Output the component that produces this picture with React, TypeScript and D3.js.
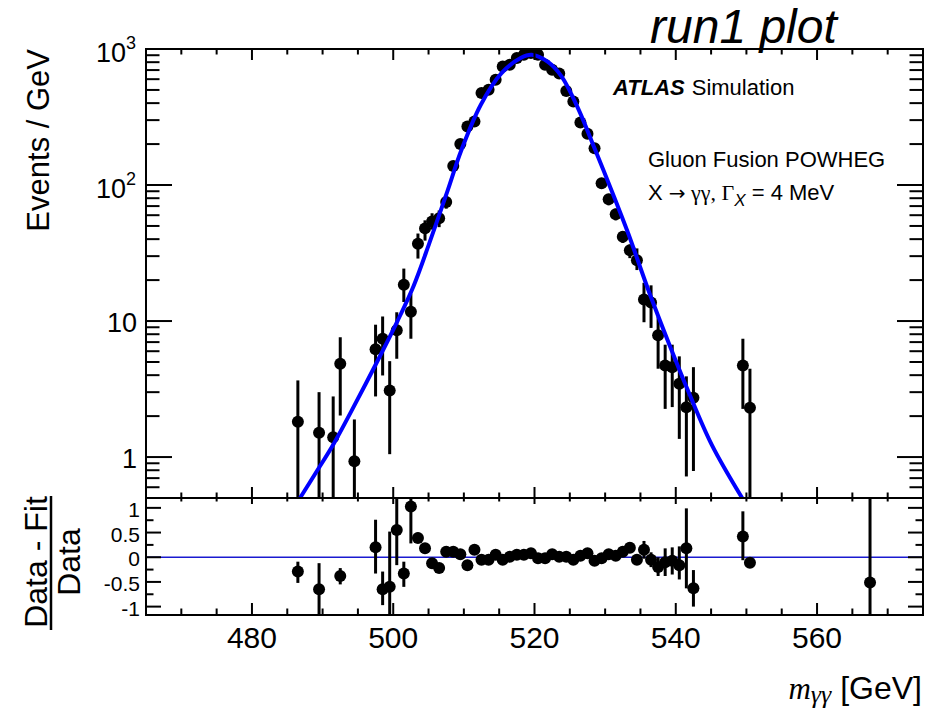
import React from 'react';
import * as d3 from 'd3';

const W = 929;
const H = 710;

// ---------- data ----------
// Main panel: bin centre [GeV], events / GeV and error-bar bounds
const mainMass = [486.5, 489.5, 491.5, 492.5, 494.5,
  497.5, 498.5, 499.5, 500.5, 501.5, 502.5, 503.5, 504.5, 505.5, 506.5,
  507.5, 508.5, 509.5, 510.5, 511.5, 512.5, 513.5, 514.5, 515.5, 516.5,
  517.5, 518.5, 519.5, 520.5, 521.5, 522.5, 523.5, 524.5, 525.5, 526.5,
  527.5, 528.5, 529.5, 530.5, 531.5, 532.5, 533.5, 534.5, 535.5, 536.5,
  537.5, 538.5, 539.5, 540.5, 541.5, 542.5,
  549.5, 550.5];
const mainValue = [1.82, 1.51, 1.40, 4.85, 0.93,
  6.2, 7.4, 3.08, 8.55, 18.5, 11.7, 37, 48, 54, 57,
  75, 138, 200, 269, 293, 474, 501, 594, 745, 766,
  859, 908, 934, 908, 766, 703, 660, 492, 411, 288,
  238, 186, 103, 78.5, 61, 41.6, 33.2, 28, 14.4, 13.7,
  7.85, 4.72, 4.58, 3.46, 2.32, 2.73,
  4.72, 2.30];
const mainErrLow = [0.1, 0.1, 0.1, 2.02, 0.1,
  2.79, 3.98, 1.05, 5.28, 13.8, 7.41, 28.8, 39, 47, 49,
  67, 127, 187, 254, 277, 454, 481, 572, 720, 741,
  832, 880, 906, 880, 741, 679, 637, 472, 393, 273,
  224, 173, 94, 71, 55, 37.5, 29, 23.7, 9.8, 8.9,
  4.46, 2.26, 2.33, 1.36, 0.72, 0.79,
  2.26, 0.1];
const mainErrHigh = [3.66, 3.0, 2.79, 7.6, 1.89,
  9.4, 10.8, 5.07, 11.6, 24.3, 15.9, 44, 55, 62, 65,
  83, 149, 213, 284, 309, 494, 521, 616, 770, 791,
  886, 936, 962, 936, 791, 727, 683, 512, 429, 303,
  252, 199, 112, 86, 67, 45.7, 36.5, 34.2, 19.1, 18.3,
  10.8, 6.7, 6.7, 5.5, 3.92, 4.58,
  7.41, 4.46];

// Fit curve
const fitMass = [486.8, 489, 491.6, 494, 497.7, 500.6, 502.9, 505.1, 507.7, 509.6,
  512.4, 515.3, 518.1, 519.6, 521.9, 523.8, 526.2, 528.5, 531.3, 533.3, 536.1, 539.0,
  541.8, 545.1, 549.4];
const fitValue = [0.5, 0.76, 1.26, 2.14, 5.0, 10.0, 18.2, 37.2, 91, 178,
  389, 661, 861, 906, 803, 631, 363, 186, 81, 43.6, 17.0, 6.9,
  3.02, 1.23, 0.5];

// Ratio panel: (Data - Fit) / Data
const ratioMass = [486.5, 489.5, 492.5,
  497.5, 498.5, 499.5, 500.5, 501.5, 502.5, 503.5, 504.5, 505.5, 506.5,
  507.5, 508.5, 509.5, 510.5, 511.5, 512.5, 513.5, 514.5, 515.5, 516.5,
  517.5, 518.5, 519.5, 520.5, 521.5, 522.5, 523.5, 524.5, 525.5, 526.5,
  527.5, 528.5, 529.5, 530.5, 531.5, 532.5, 533.5, 534.5, 535.5, 536.5,
  537.5, 538.5, 539.5, 540.5, 541.5, 542.5,
  549.5, 550.5, 567.5];
const ratioValue = [-0.29, -0.65, -0.38,
  0.20, -0.65, -0.60, 0.55, -0.33, 1.03, 0.39, 0.18, -0.12, -0.22,
  0.11, 0.11, 0.06, -0.16, 0.15, -0.05, -0.05, 0.05, -0.05, 0.01,
  0.05, 0.05, 0.08, -0.02, -0.02, 0.06, 0.01, 0.01, -0.05, 0.03,
  0.08, -0.07, -0.02, 0.06, 0.03, 0.11, 0.19, -0.05, 0.15, -0.05,
  -0.20, -0.10, -0.07, -0.16, 0.18, -0.63,
  0.42, -0.11, -0.51];
const ratioErrLow = [-0.52, -1.5, -0.55,
  -0.33, -0.97, -1.5, -0.16, -0.60, 0.28, 0.30, 0.10, -0.19, -0.32,
  0.02, 0.05, 0.01, -0.20, 0.10, -0.09, -0.09, 0.02, -0.08, -0.02,
  0.02, 0.02, 0.05, -0.05, -0.05, 0.02, -0.03, -0.03, -0.09, -0.01,
  0.03, -0.12, -0.07, 0.0, -0.02, 0.05, 0.10, -0.15, -0.03, -0.20,
  -0.38, -0.38, -0.35, -0.45, -0.63, -1.0,
  -0.06, -0.15, -1.5];
const ratioErrHigh = [-0.09, -0.12, -0.22,
  0.76, -0.29, 0.52, 1.5, -0.09, 1.5, 0.50, 0.26, -0.05, -0.12,
  0.22, 0.17, 0.11, -0.12, 0.20, -0.01, -0.01, 0.08, -0.02, 0.04,
  0.08, 0.08, 0.11, 0.01, 0.01, 0.10, 0.05, 0.05, -0.01, 0.07,
  0.13, -0.02, 0.03, 0.12, 0.08, 0.17, 0.30, 0.05, 0.33, 0.10,
  0.0, 0.18, 0.2, 0.22, 0.99, -0.26,
  0.93, -0.07, 1.5];

const xMajorTicks = [480, 500, 520, 540, 560];
const yMainTickLabels = ['1', '10', '10|2', '10|3'];
const yMainTickValues = [1, 10, 100, 1000];
const ratioTickValues = [1, 0.5, 0, -0.5, -1];
const ratioTickLabels = ['1', '0.5', '0', '-0.5', '-1'];

// ---------- layout ----------
const L = 146, R = 923, T = 49, MID = 498, B = 615;
const SANS = '"Liberation Sans", Arial, Helvetica, sans-serif';
const SERIF = '"Liberation Serif", "Times New Roman", serif';

export default function App() {
  const x = d3.scaleLinear().domain([465, 575]).range([L, R]);
  const y = d3.scaleLog().domain([0.5, 1000]).range([MID, T]);
  const yr = d3.scaleLinear().domain([-1.17, 1.2]).range([B, MID]);

  const xMinor = d3.range(465, 576, 5);
  const logMinor: number[] = [];
  for (const dec of [0.1, 1, 10, 100]) {
    for (let k = 1; k <= 9; k++) {
      const v = k * dec;
      if (v >= 0.5 && v <= 1000) logMinor.push(v);
    }
  }
  logMinor.push(1000);
  const ratioMinor = d3.range(-1, 1.01, 0.25);

  const fitLine = d3.line<number>()
    .x((_, i) => x(fitMass[i]))
    .y((v) => y(v))
    .curve(d3.curveCatmullRom.alpha(0.5));

  const ticks: JSX.Element[] = [];
  xMinor.forEach((m, i) => {
    const major = m % 20 === 0;
    const lt = major ? 11 : 5.5;
    ticks.push(<line key={'mt' + i} x1={x(m)} x2={x(m)} y1={T} y2={T + lt} />);
    ticks.push(<line key={'mb' + i} x1={x(m)} x2={x(m)} y1={MID} y2={MID - lt} />);
    const lr = major ? 6 : 3.5;
    ticks.push(<line key={'rt' + i} x1={x(m)} x2={x(m)} y1={MID} y2={MID + lr} />);
    const lb = major ? 12 : 6.5;
    ticks.push(<line key={'rb' + i} x1={x(m)} x2={x(m)} y1={B} y2={B - lb} />);
  });
  logMinor.forEach((v, i) => {
    const major = Math.abs(Math.log10(v) - Math.round(Math.log10(v))) < 1e-9;
    const len = major ? 26 : 13.5;
    ticks.push(<line key={'yl' + i} x1={L} x2={L + len} y1={y(v)} y2={y(v)} />);
    ticks.push(<line key={'yr' + i} x1={R} x2={R - len} y1={y(v)} y2={y(v)} />);
  });
  ratioMinor.forEach((v, i) => {
    const major = Math.abs(v * 2 - Math.round(v * 2)) < 1e-9;
    const len = major ? 15 : 7.5;
    ticks.push(<line key={'ql' + i} x1={L} x2={L + len} y1={yr(v)} y2={yr(v)} />);
    ticks.push(<line key={'qr' + i} x1={R} x2={R - len} y1={yr(v)} y2={yr(v)} />);
  });

  return (
    <svg width={W} height={H} viewBox={`0 0 ${W} ${H}`}
      style={{ position: 'absolute', left: 0, top: 0, background: '#fff', display: 'block' }}>
      <defs>
        <clipPath id="clipMain"><rect x={L} y={T} width={R - L} height={MID - T} /></clipPath>
        <clipPath id="clipRatio"><rect x={L} y={MID} width={R - L} height={B - MID} /></clipPath>
      </defs>
      <rect x={0} y={0} width={W} height={H} fill="#fff" />

      <g clipPath="url(#clipMain)">
        <g stroke="#000" strokeWidth={3}>
          {mainMass.map((m, i) => (
            <line key={'e' + i} x1={x(m)} x2={x(m)} y1={y(Math.max(mainErrLow[i], 0.3))} y2={y(mainErrHigh[i])} />
          ))}
        </g>
        <g fill="#000">
          {mainMass.map((m, i) => (
            <circle key={'p' + i} cx={x(m)} cy={y(mainValue[i])} r={6} />
          ))}
        </g>
        <path d={fitLine(fitValue) || ''} fill="none" stroke="#0000ff" strokeWidth={4} />
      </g>

      <g clipPath="url(#clipRatio)">
        <line x1={L} x2={R} y1={yr(0)} y2={yr(0)} stroke="#1a1ad0" strokeWidth={1.6} />
        <g stroke="#000" strokeWidth={3}>
          {ratioMass.map((m, i) => (
            <line key={'re' + i} x1={x(m)} x2={x(m)} y1={yr(ratioErrLow[i])} y2={yr(ratioErrHigh[i])} />
          ))}
        </g>
        <g fill="#000">
          {ratioMass.map((m, i) => (
            <circle key={'rp' + i} cx={x(m)} cy={yr(ratioValue[i])} r={6} />
          ))}
        </g>
      </g>

      <g stroke="#000" strokeWidth={2} fill="none">
        <rect x={L} y={T} width={R - L} height={MID - T} />
        <rect x={L} y={MID} width={R - L} height={B - MID} />
        {ticks}
      </g>

      <g fontFamily={SANS} fill="#000">
        {yMainTickValues.map((v, i) => {
          const lab = yMainTickLabels[i];
          if (lab.includes('|')) {
            const [base, exp] = lab.split('|');
            return (
              <text key={'yl' + i} x={136} y={y(v) + 13} textAnchor="end" fontSize={27}>
                {base}<tspan fontSize={18} dy={-13}>{exp}</tspan>
              </text>
            );
          }
          return (
            <text key={'yl' + i} x={137} y={y(v) + 11} textAnchor="end" fontSize={27}>{lab}</text>
          );
        })}
      </g>

      <g fontFamily={SANS} fill="#000" fontSize={21}>
        {ratioTickValues.map((v, i) => (
          <text key={'rl' + i} x={140} y={yr(v) + 9} textAnchor="end">{ratioTickLabels[i]}</text>
        ))}
      </g>

      <g fontFamily={SANS} fill="#000" fontSize={30}>
        {xMajorTicks.map((m) => (
          <text key={'xl' + m} x={x(m)} y={648} textAnchor="middle">{m}</text>
        ))}
      </g>

      <text transform="translate(48.5,49) rotate(-90)" textAnchor="end" fontFamily={SANS} fontSize={31}>Events / GeV</text>
      <g fontFamily={SANS} fontSize={32}>
        <text transform="translate(47,562) rotate(-90)" textAnchor="middle">Data - Fit</text>
        <line x1={51} x2={51} y1={496} y2={630} stroke="#000" strokeWidth={2.5} />
        <text transform="translate(80,562) rotate(-90)" textAnchor="middle">Data</text>
      </g>
      <text x={922} y={699} textAnchor="end" fontFamily={SANS} fontSize={32}>
        <tspan fontFamily={SERIF} fontStyle="italic" fontSize={31}>m</tspan>
        <tspan fontFamily={SERIF} fontStyle="italic" fontSize={26} dy={4}>γγ</tspan>
        <tspan dy={-4}> [GeV]</tspan>
      </text>

      <text x={650} y={43} fontFamily={SANS} fontStyle="italic" fontSize={48}>run1 plot</text>
      <text x={613} y={95} fontFamily={SANS} fontSize={22}>
        <tspan fontWeight="bold" fontStyle="italic">ATLAS</tspan>
        <tspan dx={7}>Simulation</tspan>
      </text>
      <text x={648} y={167} fontFamily={SANS} fontSize={22}>Gluon Fusion POWHEG</text>
      <text x={648} y={200} fontFamily={SANS} fontSize={22}>
        <tspan>X </tspan>
        <tspan fontFamily='"DejaVu Sans", sans-serif' fontSize={20}>→</tspan>
        <tspan fontFamily={SERIF}> γγ, Γ</tspan>
        <tspan fontStyle="italic" fontSize={17} dy={6}>X</tspan>
        <tspan dy={-6}> = 4 MeV</tspan>
      </text>
    </svg>
  );
}
